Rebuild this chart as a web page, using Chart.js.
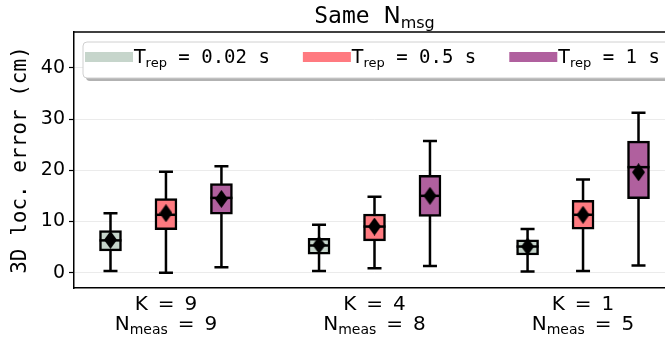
<!DOCTYPE html>
<html>
<head>
<meta charset="utf-8">
<script src="https://cdn.jsdelivr.net/npm/chart.js@4.4.1/dist/chart.umd.min.js"></script>
<style>
  html, body { margin: 0; padding: 0; overflow: hidden; background: #fff; }
  #wrap { width: 700px; height: 340px; position: relative; }
</style>
</head>
<body>
<div id="wrap"><canvas id="chart"></canvas></div>
<script>
// groups on the x axis
const kValues = [9, 4, 1];
const nMeas = [9, 8, 5];
// series
const tRep = ['0.02', '0.5', '1'];
const colors = ['#c6d5cb', '#ff7a80', '#b0609e'];
// [whisker low, q1, median, q3, whisker high] per group
const boxT002 = [[0.3, 4.25, 6.3, 8.2, 11.6], [0.33, 3.6, 5.3, 6.7, 9.35], [0.2, 3.45, 5.1, 6.4, 8.5]];
const boxT05 = [[0.0, 8.4, 11.3, 14.45, 19.7], [0.85, 6.2, 9.0, 11.45, 14.8], [0.33, 8.5, 11.3, 14.1, 18.2]];
const boxT1 = [[1.05, 11.4, 14.6, 17.4, 20.8], [1.3, 11.0, 15.0, 19.0, 25.7], [1.4, 14.45, 20.6, 25.7, 31.25]];
const meanT002 = [6.4, 5.4, 5.1];
const meanT05 = [11.6, 9.0, 11.3];
const meanT1 = [14.4, 15.0, 19.6];
const yTicks = [0, 10, 20, 30, 40];

const boxes = [boxT002, boxT05, boxT1];
const means = [meanT002, meanT05, meanT1];
const offsets = [-0.266, 0, 0.266];

const mono = 'DejaVu Sans Mono';
const sans = 'DejaVu Sans';

// tall diamond marker for the mean
const diamond = document.createElement('canvas');
diamond.width = 13; diamond.height = 18;
{
  const d = diamond.getContext('2d');
  d.fillStyle = '#000';
  d.beginPath();
  d.moveTo(6.5, 0); d.lineTo(13, 9); d.lineTo(6.5, 18); d.lineTo(0, 9);
  d.closePath();
  d.fill();
}

const datasets = [{
  type: 'scatter',
  order: 0,
  data: means.flatMap((m, s) => m.map((v, g) => ({x: g + offsets[s], y: v}))),
  pointStyle: diamond,
  pointRadius: 5
}];
boxes.forEach((b, s) => {
  datasets.push({
    type: 'bar',
    order: 1,
    seriesIndex: s,
    data: b.map((v, g) => ({x: g + offsets[s], y: [v[1], v[3]]})),
    backgroundColor: colors[s],
    borderColor: '#000',
    borderWidth: 2.5,
    borderSkipped: false,
    barThickness: 22,
    grouped: false
  });
});

// draw text with a subscript part, returns end x
function subText(ctx, x, y, parts) {
  parts.forEach(p => {
    ctx.font = p.size + 'px "' + p.family + '"';
    ctx.fillText(p.text, x, y + (p.drop || 0));
    x += ctx.measureText(p.text).width;
  });
  return x;
}
function subWidth(ctx, parts) {
  let w = 0;
  parts.forEach(p => { ctx.font = p.size + 'px "' + p.family + '"'; w += ctx.measureText(p.text).width; });
  return w;
}

const boxParts = {
  id: 'boxParts',
  beforeDatasetsDraw(chart) {
    const {ctx, scales: {x, y}} = chart;
    ctx.save();
    ctx.strokeStyle = '#000';
    ctx.lineWidth = 2.5;
    boxes.forEach((b, s) => b.forEach((v, g) => {
      const px = x.getPixelForValue(g + offsets[s]);
      const lo = y.getPixelForValue(v[0]), hi = y.getPixelForValue(v[4]);
      ctx.beginPath();
      ctx.moveTo(px, lo); ctx.lineTo(px, hi);
      ctx.moveTo(px - 7, lo); ctx.lineTo(px + 7, lo);
      ctx.moveTo(px - 7, hi); ctx.lineTo(px + 7, hi);
      ctx.stroke();
    }));
    ctx.restore();
  },
  afterDatasetDraw(chart, args) {
    const ds = chart.data.datasets[args.index];
    if (ds.seriesIndex === undefined) return;
    const {ctx, scales: {x, y}} = chart;
    ctx.save();
    ctx.strokeStyle = '#000';
    ctx.lineWidth = 2.5;
    boxes[ds.seriesIndex].forEach((v, g) => {
      const px = x.getPixelForValue(g + offsets[ds.seriesIndex]);
      const py = y.getPixelForValue(v[2]);
      ctx.beginPath();
      ctx.moveTo(px - 11, py); ctx.lineTo(px + 11, py);
      ctx.stroke();
    });
    ctx.restore();
  },
  afterDraw(chart) {
    const {ctx, chartArea: a, scales: {x}} = chart;
    ctx.save();
    // top spine
    ctx.strokeStyle = '#000';
    ctx.lineWidth = 1.5;
    ctx.beginPath();
    ctx.moveTo(a.left, a.top); ctx.lineTo(a.right + 1, a.top);
    ctx.stroke();

    ctx.fillStyle = '#000';
    ctx.textBaseline = 'alphabetic';
    ctx.textAlign = 'left';

    // title
    const title = [
      {text: 'Same ', family: mono, size: 23},
      {text: 'N', family: sans, size: 23},
      {text: 'msg', family: sans, size: 16, drop: 5}
    ];
    const tw = subWidth(ctx, title);
    subText(ctx, (a.left + a.right) / 2 - tw / 2, 23, title);

    // legend
    const lx = 83, ly = 42, lh = 36;
    ctx.fillStyle = 'rgba(0,0,0,0.3)';
    ctx.beginPath();
    ctx.roundRect(lx + 3, ly + 3, 700, lh, 4);
    ctx.fill();
    ctx.fillStyle = '#fff';
    ctx.strokeStyle = '#d0d0d0';
    ctx.lineWidth = 1;
    ctx.beginPath();
    ctx.roundRect(lx, ly, 700, lh, 4);
    ctx.fill();
    ctx.stroke();
    let cx = lx + 2;
    tRep.forEach((t, s) => {
      ctx.fillStyle = colors[s];
      ctx.fillRect(cx, 52, 48, 10);
      cx += 49;
      ctx.fillStyle = '#000';
      cx = subText(ctx, cx, 63, [
        {text: 'T', family: sans, size: 19},
        {text: 'rep', family: sans, size: 13, drop: 4},
        {text: ' = ' + t + ' s', family: mono, size: 19}
      ]);
      cx += 33;
    });

    // x labels
    const sp = '\u2002';
    kValues.forEach((k, g) => {
      const px = x.getPixelForValue(g);
      ctx.font = '20px "' + sans + '"';
      ctx.textAlign = 'center';
      ctx.fillText('K' + sp + '=' + sp + k, px, 310);
      ctx.textAlign = 'left';
      const line = [
        {text: 'N', family: sans, size: 20},
        {text: 'meas', family: sans, size: 14, drop: 4},
        {text: sp + '=' + sp + nMeas[g], family: sans, size: 20}
      ];
      const w = subWidth(ctx, line);
      subText(ctx, px - w / 2, 330, line);
    });
    ctx.restore();
  }
};

new Chart(document.getElementById('chart'), {
  type: 'bar',
  data: {datasets},
  options: {
    responsive: true,
    maintainAspectRatio: false,
    animation: false,
    events: [],
    layout: {padding: {top: 32, right: 25, left: 0, bottom: 0}},
    plugins: {legend: {display: false}, tooltip: {enabled: false}},
    scales: {
      x: {
        type: 'linear',
        offset: false,
        min: -0.441,
        max: 2.441,
        grid: {display: false},
        ticks: {display: false},
        border: {color: '#000', width: 1.5},
        afterFit: s => { s.height = 52; }
      },
      y: {
        min: -3,
        max: 47,
        afterBuildTicks: s => { s.ticks = yTicks.map(v => ({value: v})); },
        afterFit: s => { s.width = 74; },
        grid: {color: '#ebebeb', lineWidth: 1, tickColor: '#000', tickLength: 5, tickWidth: 1.2},
        border: {color: '#000', width: 1.5},
        ticks: {color: '#000', padding: 4, font: {family: sans, size: 19}},
        title: {
          display: true,
          text: '3D loc. error (cm)',
          color: '#000',
          font: {family: mono, size: 21},
          padding: {top: 8, bottom: 0}
        }
      }
    }
  },
  plugins: [boxParts]
});
</script>
</body>
</html>
